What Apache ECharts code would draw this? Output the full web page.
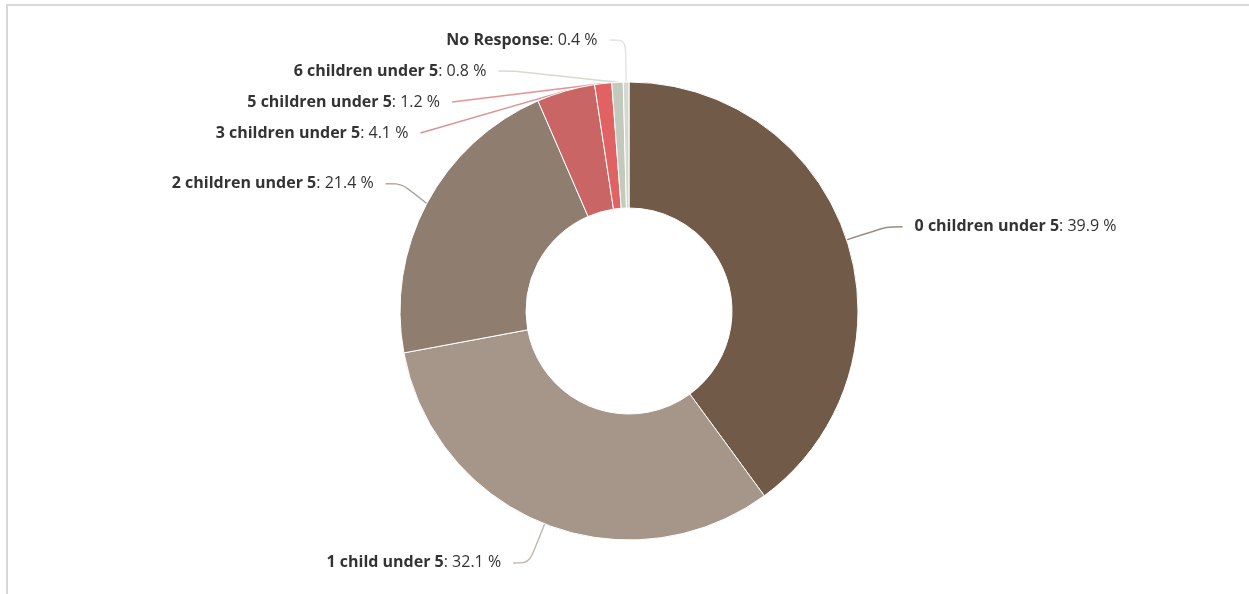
<!DOCTYPE html>
<html>
<head>
<meta charset="utf-8">
<script src="https://cdn.jsdelivr.net/npm/echarts@6/dist/echarts.min.js"></script>
<style>
  html, body { margin: 0; padding: 0; background: #fff; }
  #frame { position: absolute; left: 6px; top: 4px; width: 1243px; height: 590px;
           border-top: 2px solid #d9d9d9; border-left: 2px solid #d9d9d9; box-sizing: border-box; }
  #chart { position: absolute; left: 0; top: 0; width: 1249px; height: 594px; }
</style>
</head>
<body>
<div id="frame"></div>
<div id="chart"></div>
<script>
const categories = [
  '0 children under 5',
  '1 child under 5',
  '2 children under 5',
  '3 children under 5',
  '5 children under 5',
  '6 children under 5',
  'No Response'
];
const values = [39.9, 32.1, 21.4, 4.1, 1.2, 0.8, 0.4];
const colors = ['#715a48', '#a59689', '#8f7e6f', '#c96565', '#e06262', '#c3cabd', '#d3d9cf'];

const chart = echarts.init(document.getElementById('chart'), null, { renderer: 'canvas' });
const data = categories.map((c, i) => ({ name: c, value: values[i], itemStyle: { color: colors[i] } }));

chart.setOption({
  animation: false,
  series: [{
    type: 'pie',
    center: [629, 311],
    radius: [103, 229],
    startAngle: 90,
    clockwise: true,
    avoidLabelOverlap: true,
    itemStyle: { borderColor: '#ffffff', borderWidth: 1 },
    label: {
      show: true,
      position: 'outside',
      distanceToLabelLine: 12,
      lineHeight: 29,
      formatter: p => '{b|' + p.name + '}{v|: ' + p.value.toFixed(1) + ' %}',
      rich: {
        b: { fontFamily: 'Open Sans', fontWeight: 'bold', fontSize: 16, lineHeight: 29, color: '#333333' },
        v: { fontFamily: 'Open Sans', fontWeight: 'normal', fontSize: 16, lineHeight: 29, color: '#333333' }
      }
    },
    labelLine: {
      show: true,
      length: 42,
      length2: 16,
      smooth: true,
      lineStyle: { width: 1.4, opacity: 0.7 }
    },
    emphasis: { disabled: true },
    data: data
  }]
});
</script>
</body>
</html>
